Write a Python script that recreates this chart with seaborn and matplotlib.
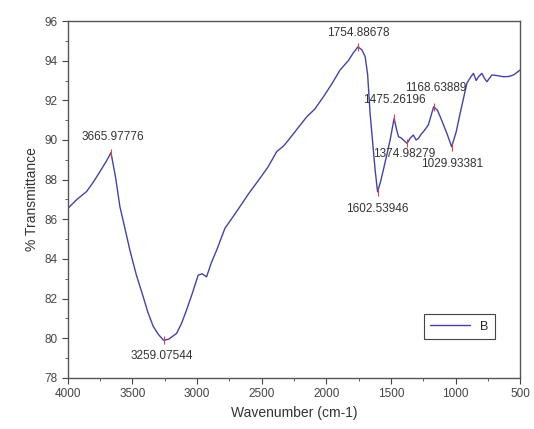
import numpy as np
import pandas as pd
import matplotlib
matplotlib.use("Agg")
import matplotlib.pyplot as plt
import seaborn as sns
from matplotlib.ticker import MultipleLocator

sns.set_style("ticks")
plt.rcParams["font.family"] = ["Liberation Sans", "DejaVu Sans"]

# FTIR spectrum
wavenumber = [4000, 3930, 3855, 3800, 3752, 3700, 3666, 3630, 3597, 3560, 3520, 3470,
              3417, 3380, 3339, 3300, 3259, 3220, 3158, 3120, 3081, 3040, 2991, 2960,
              2926, 2890, 2848, 2784, 2730, 2668, 2600, 2513, 2450, 2384, 2330, 2280,
              2220, 2151, 2090, 2022, 1960, 1893, 1830, 1790, 1755, 1725, 1699, 1680,
              1661, 1640, 1622, 1603, 1580, 1558, 1530, 1506, 1475, 1455, 1441, 1420,
              1403, 1375, 1350, 1326, 1305, 1287, 1265, 1248, 1210, 1169, 1140, 1118,
              1067, 1030, 995, 964, 912, 880, 861, 840, 822, 796, 775, 757, 718, 680,
              628, 590, 551, 500]
transmittance = [86.55, 87.0, 87.4, 87.9, 88.4, 88.95, 89.36, 88.1, 86.64, 85.6, 84.45, 83.2,
                 82.1, 81.3, 80.6, 80.2, 79.9, 79.95, 80.25, 80.75, 81.43, 82.2, 83.19, 83.25,
                 83.1, 83.8, 84.45, 85.55, 86.05, 86.64, 87.3, 88.07, 88.65, 89.41, 89.7, 90.1,
                 90.6, 91.17, 91.55, 92.18, 92.8, 93.53, 94.0, 94.4, 94.7, 94.55, 94.2, 93.3,
                 91.35, 89.8, 88.49, 87.39, 87.9, 88.5, 89.3, 90.0, 91.09, 90.5, 90.17, 90.1,
                 90.0, 89.83, 90.1, 90.25, 90.0, 90.08, 90.3, 90.42, 90.76, 91.68, 91.5, 91.17,
                 90.34, 89.66, 90.4, 91.35, 92.86, 93.2, 93.36, 93.0, 93.19, 93.36, 93.1, 92.94,
                 93.28, 93.25, 93.19, 93.2, 93.28, 93.53]

peak_wn = [3665.97776, 3259.07544, 1754.88678, 1602.53946, 1475.26196, 1374.98279,
           1168.63889, 1029.93381]
peak_t = [89.36, 79.9, 94.7, 87.39, 91.09, 89.83, 91.68, 89.66]
peak_offsets = [(2, 16), (-2, -16), (0, 14), (0, -17), (0, 18), (-3, -11), (2, 19), (0, -17)]

df = pd.DataFrame({"Wavenumber": wavenumber, "T": transmittance})

fig, ax = plt.subplots(figsize=(5.34, 4.29), dpi=100)
fig.subplots_adjust(left=0.127, right=0.974, top=0.951, bottom=0.119)

sns.lineplot(data=df, x="Wavenumber", y="T", sort=False, color="#4444a0",
             linewidth=1.0, ax=ax, label="B")

ax.plot(peak_wn, peak_t, linestyle="none", marker="|", color="#e04040",
        markersize=6, markeredgewidth=0.8)
for wn, t, off in zip(peak_wn, peak_t, peak_offsets):
    ax.annotate(f"{wn:.5f}", xy=(wn, t), xytext=off, textcoords="offset pixels",
                ha="center", va="center", fontsize=8.5, color="#333333")

ax.set_xlim(4000, 500)
ax.set_ylim(78, 96)
ax.xaxis.set_major_locator(MultipleLocator(500))
ax.xaxis.set_minor_locator(MultipleLocator(250))
ax.yaxis.set_major_locator(MultipleLocator(2))
ax.yaxis.set_minor_locator(MultipleLocator(1))
ax.tick_params(which="both", direction="out", labelsize=8.5, colors="#444444",
               top=False, right=False)
ax.tick_params(which="major", length=4)
ax.tick_params(which="minor", length=2)
for sp in ax.spines.values():
    sp.set_color("#555555")
    sp.set_linewidth(1.0)

ax.set_xlabel("Wavenumber (cm-1)", fontsize=10, color="#333333")
ax.set_ylabel("% Transmittance", fontsize=10, color="#333333")

leg = ax.legend(loc="lower left", bbox_to_anchor=(0.774, 0.092), fancybox=False,
                edgecolor="#444444", fontsize=9, handlelength=3.2, borderpad=0.5,
                framealpha=1)
leg.get_frame().set_linewidth(0.8)

fig.savefig("out.png", dpi=100)
